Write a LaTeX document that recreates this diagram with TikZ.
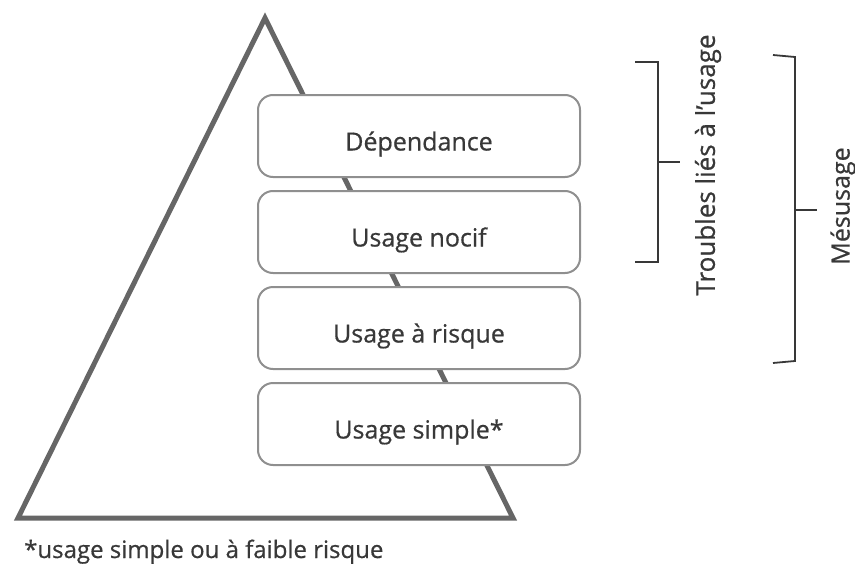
\documentclass[tikz,border=0pt]{standalone}
\usepackage{fontspec}
\setmainfont{Open Sans}[FakeBold=0.6]
\usepackage{xcolor}
\usetikzlibrary{positioning}
\definecolor{pyrgray}{HTML}{666666}
\definecolor{boxgray}{HTML}{8F8F8F}
\definecolor{inkgray}{HTML}{383838}

\tikzset{
  level/.style={draw=boxgray, line width=2pt, fill=white, rounded corners=15pt,
                minimum width=322pt, minimum height=82pt, text=inkgray,
                text height=29pt, text depth=0pt,
                font=\fontsize{25}{28}\selectfont},
  bracket/.style={draw=inkgray, line width=1.8pt},
  sidelabel/.style={rotate=90, text=inkgray, font=\fontsize{26}{30}\selectfont}
}

\begin{document}
\begin{tikzpicture}[x=1pt, y=-1pt, node distance=12pt]
    \useasboundingbox (0,0) rectangle (855,573);
    % pyramid
    \draw[pyrgray, line width=5pt] (265,18) -- (513,518) -- (18,518) -- cycle;

    % levels
    \node[level] (dep) at (419,136) {Dépendance};
    \node[level, below=of dep] (nocif) {Usage nocif};
    \node[level, below=of nocif] (risque) {Usage à risque};
    \node[level, below=of risque] (simple) {Usage simple*};

    % brackets
    \coordinate (tb1) at (635,62);
    \coordinate (tb2) at (635,262);
    \draw[bracket] (tb1) -- ++(23,0) -- ++(0,200) -- (tb2);
    \draw[bracket] (658,162) -- ++(22,0);
    \node[sidelabel] (troubles) at (708,165) {Troubles liés à l'usage};

    \coordinate (mb1) at (773,55);
    \coordinate (mb2) at (773,363);
    \draw[bracket] (mb1) -- ++(22,2) -- ++(0,304) -- (mb2);
    \draw[bracket] (795,210) -- ++(22,0);
    \node[sidelabel, font=\fontsize{25}{29}\selectfont] (mesusage) at (843,206) {Mésusage};

    % footnote
    \node[anchor=base west, text=inkgray, font=\fontsize{24}{28}\selectfont, inner sep=0pt]
      (note) at (24,558) {*usage simple ou à faible risque};
  \end{tikzpicture}
\end{document}
